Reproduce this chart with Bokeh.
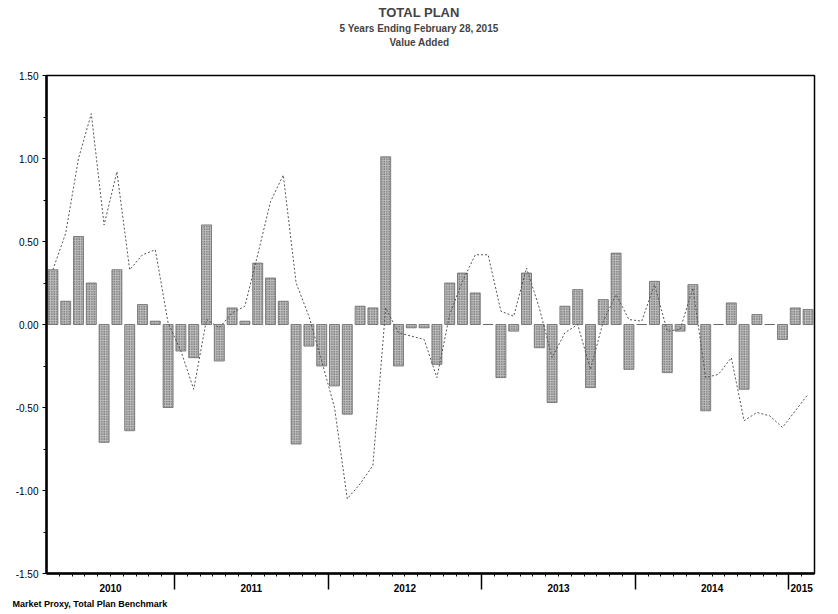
from bokeh.plotting import figure
from bokeh.models import (FixedTicker, ColumnDataSource, NumeralTickFormatter, Range1d,
                          LinearAxis, Title, CustomLabelingPolicy)
from bokeh.embed import file_html
from bokeh.resources import INLINE

# ---- data ----
years = ["2010", "2011", "2012", "2013", "2014", "2015"]
months_in_year = [10, 12, 12, 12, 12, 2]

# monthly value added (bars), Mar 2010 .. Feb 2015
bar_values = [0.33, 0.14, 0.53, 0.25, -0.71, 0.33, -0.64, 0.12, 0.02, -0.50, -0.16, -0.20,
              0.60, -0.22, 0.10, 0.02, 0.37, 0.28, 0.14, -0.72, -0.13, -0.25, -0.37, -0.54,
              0.11, 0.10, 1.01, -0.25, -0.02, -0.02, -0.24, 0.25, 0.31, 0.19, 0.00, -0.32,
              -0.04, 0.31, -0.14, -0.47, 0.11, 0.21, -0.38, 0.15, 0.43, -0.27, 0.00, 0.26,
              -0.29, -0.04, 0.24, -0.52, 0.00, 0.13, -0.39, 0.06, 0.00, -0.09, 0.10, 0.09]

# line series
line_values = [0.33, 0.55, 1.00, 1.27, 0.60, 0.92, 0.33, 0.42, 0.45, 0.01, -0.16, -0.39,
               0.03, -0.02, 0.07, 0.11, 0.42, 0.74, 0.90, 0.25, 0.05, -0.22, -0.50, -1.05,
               -0.96, -0.85, 0.10, -0.05, -0.07, -0.09, -0.32, 0.06, 0.26, 0.42, 0.42, 0.08,
               0.05, 0.34, 0.10, -0.20, -0.05, 0.00, -0.27, 0.02, 0.18, 0.03, 0.02, 0.24,
               -0.04, -0.03, 0.22, -0.32, -0.30, -0.20, -0.58, -0.53, -0.55, -0.62, -0.52, -0.42]

y_ticks = [-1.5, -1.0, -0.5, 0.0, 0.5, 1.0, 1.5]
title_lines = ["TOTAL PLAN", "5 Years Ending February 28, 2015", "Value Added"]
footnote = "Market Proxy, Total Plan Benchmark"

# ---- derived positions ----
n = len(bar_values)
xs = [i + 0.5 for i in range(n)]
bounds = []
acc = 0
for m in months_in_year:
    bounds.append((acc, acc + m))
    acc += m
year_edges = [b[1] for b in bounds[:-1]]
year_centers = [(a + b) / 2 for a, b in bounds]
month_edges = [i for i in range(1, n) if i not in year_edges]

W, H = 830, 611
p = figure(width=W, height=H, x_range=Range1d(0, n), y_range=Range1d(-1.5, 1.5),
           output_backend="svg", toolbar_location=None, title_location=None,
           x_axis_location=None,
           min_border_left=46, min_border_right=16, min_border_top=75, min_border_bottom=38)
p.xgrid.visible = False
p.ygrid.visible = False
p.outline_line_color = "black"
p.outline_line_width = 1.5
p.background_fill_color = "white"
p.border_fill_color = "white"

src = ColumnDataSource(dict(x=xs, top=bar_values))
p.vbar(x="x", top="top", bottom=0, width=0.78, source=src,
       fill_color="#bcbcbc", hatch_pattern="dot", hatch_color="#444444",
       hatch_scale=2.5, hatch_weight=1, line_color="#5a5a5a", line_width=0.7)

p.line(xs, line_values, line_color="#555555", line_width=1, line_dash="2 2")

# y axis
ya = p.yaxis[0]
ya.ticker = FixedTicker(ticks=y_ticks,
                        minor_ticks=[t + 0.25 for t in y_ticks[:-1]])
ya.formatter = NumeralTickFormatter(format="0.00")
ya.axis_line_width = 2.5
ya.major_tick_out = 4
ya.major_tick_in = 0
ya.minor_tick_out = 3
ya.minor_tick_in = 0
ya.major_label_standoff = 4
ya.major_label_text_font = "Liberation Sans"
ya.major_label_text_font_size = "10px"
ya.major_label_text_color = "black"

# x axis: year boundaries (long ticks) and month ticks, no labels of its own
xa = LinearAxis(ticker=FixedTicker(ticks=year_edges, minor_ticks=month_edges))
xa.axis_line_width = 2.5
xa.major_tick_out = 16
xa.major_tick_in = 0
xa.major_tick_line_width = 1.5
xa.minor_tick_out = 3
xa.minor_tick_in = 0
xa.major_label_standoff = 0
xa.major_label_text_font_size = "0px"
xa.major_label_policy = CustomLabelingPolicy(code="""
for (const i of indices)
  indices.unset(i)
""")
p.add_layout(xa, "below")

# x axis: year names centred in each year
xl = LinearAxis(ticker=FixedTicker(ticks=year_centers, minor_ticks=[]),
                major_label_overrides={c: y for c, y in zip(year_centers, years)})
xl.axis_line_color = None
xl.major_tick_line_color = None
xl.minor_tick_line_color = None
xl.major_tick_out = 0
xl.major_tick_in = 0
xl.major_label_standoff = -6
xl.major_label_text_font = "Liberation Sans"
xl.major_label_text_font_size = "10px"
xl.major_label_text_font_style = "bold"
xl.major_label_text_color = "black"
p.add_layout(xl, "below")

p.add_layout(Title(text=footnote, align="left", offset=-34, standoff=5,
                   text_font="Liberation Sans", text_font_size="9px",
                   text_font_style="bold", text_color="black"), "below")

# titles (nearest the plot first); a blank spacer keeps the gap above the frame
spacer = Title(text=" ", align="center", standoff=16,
               text_font="Liberation Sans", text_font_size="8px")
t3 = Title(text=title_lines[2], align="left", offset=343, standoff=2,
           text_font="Liberation Sans", text_font_size="10px", text_font_style="bold")
t2 = Title(text=title_lines[1], align="left", offset=293, standoff=0,
           text_font="Liberation Sans", text_font_size="10px", text_font_style="bold")
t1 = Title(text=title_lines[0], align="left", offset=332, standoff=1,
           text_font="Liberation Sans", text_font_size="13px", text_font_style="bold")
p.add_layout(spacer, "above")
p.add_layout(t3, "above")
p.add_layout(t2, "above")
p.add_layout(t1, "above")

open("out.html", "w").write(file_html(p, INLINE))
